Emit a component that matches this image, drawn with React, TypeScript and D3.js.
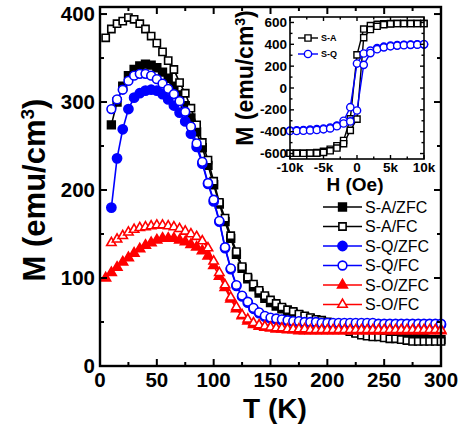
import React from 'react';
import * as d3 from 'd3';

// Main plot: temperature (K)
const temps = [5,10,15,20,25,30,35,40,45,50,55,60,65,70,75,80,85,90,95,100,105,110,115,120,125,130,135,140,145,150,155,160,165,170,175,180,185,190,195,200,205,210,215,220,225,230,235,240,245,250,255,260,265,270,275,280,285,290,295,300];

const saZFC = [null,274,300,318,330,337,341,343,342,339, 334,327,318,308,296,282,266,248,228,206, 184,164,145,127,111,99,90,83,77,72, 68,65,62,60,58,56,54,52,50,48, 46,44,42,40,38,37,36,35,34,34, 33,33,32,32,31,31,31,30,30,30];
const saFC = [373,383,389,392,396,394,389,383,375,367, 357,347,337,322,310,293,274,254,234,210, 186,168,148,130,113,101,93,86,80,75, 71,67,64,62,59,57,55,53,52,50, 48,45,42,39,37,35,34,33,33,32, 31,31,30,29,28,28,28,28,28,28];
const sqZFC = [null,180,236,269,292,305,310,313,314,313, 309,303,296,288,278,264,249,230,207,187, 164,134,110,91,79,72,65,60,56,54, 53,52,51,50,50,49,49,49,48,48, 48,48,48,48,48,48,48,48,47,47, 47,47,47,47,47,47,47,47,47,47];
const sqFC = [null,292,303,314,324,330,332,332,330,326, 321,315,309,301,289,272,253,232,208,189, 165,135,111,92,80,73,66,61,57,55, 54,53,52,51,51,50,50,50,49,49, 49,49,49,49,49,49,49,49,48,48, 48,48,48,48,48,48,48,48,48,48];
const soZFC = [100,106,112,118,123,128,133,137,140,143, 145,145,145,143,141,138,135,131,125,114, 102,89,76,65,57,51,47,45,44,43, 42,42,41,41,40,40,40,40,40,40, 40,40,40,40,40,40,40,40,40,40, 40,40,40,40,40,40,40,40,40,40];
const soFC = [null,140,144,148,152,155,157,158,159,160, 160,159,158,156,153,150,147,142,134,119, 106,92,78,67,58,53,49,46.5,45,44, 43,43,42,42,42,42,41,41,41,41, 41,41,41,41,41,41,41,41,41,41, 41,41,41,41,41,41,41,41,41,41];

const seriesNames = ['S-A/ZFC','S-A/FC','S-Q/ZFC','S-Q/FC','S-O/ZFC','S-O/FC'];
const xTicks = [0,50,100,150,200,250,300];
const yTicks = [0,100,200,300,400];

// Inset: field (Oe)
const insetH = [-10000,-9000,-8000,-7000,-6000,-5000,-4000,-3000,-2000,-1000,0,1000,2000,3000,4000,5000,6000,7000,8000,9000,10000];
const saDesc = [-598,-598,-597,-595,-590,-580,-560,-528,-480,-282,303,540,572,583,588,590,590,590,590,590,590];
const saAsc = [-598,-598,-598,-597,-596,-590,-575,-550,-510,-388,-285,461,535,565,580,587,590,590,590,590,590];
const sqDesc = [-390,-388,-385,-381,-377,-371,-362,-345,-300,-176,224,316,342,365,378,388,393,396,398,399,400];
const sqAsc = [-394,-393,-391,-388,-384,-378,-370,-350,-325,-306,-206,212,320,355,372,382,388,392,395,397,400];
const insetNames = ['S-A','S-Q'];
const insetXTicks = [-10000,-5000,0,5000,10000];
const insetXLabels = ['-10k','-5k','0','5k','10k'];
const insetYTicks = [-600,-400,-200,0,200,400,600];

const FONT = '"Liberation Sans", Arial, sans-serif';
const BLUE = '#0000ff';
const RED = '#ff0000';

type Style = { color: string; shape: 'square' | 'circle' | 'triangle'; filled: boolean; size: number };

const styles: Style[] = [
  { color: '#000', shape: 'square', filled: true, size: 60 },
  { color: '#000', shape: 'square', filled: false, size: 52 },
  { color: BLUE, shape: 'circle', filled: true, size: 66 },
  { color: BLUE, shape: 'circle', filled: false, size: 60 },
  { color: RED, shape: 'triangle', filled: true, size: 42 },
  { color: RED, shape: 'triangle', filled: false, size: 38 },
];

const symType = (s: Style['shape']) =>
  s === 'square' ? d3.symbolSquare : s === 'circle' ? d3.symbolCircle : d3.symbolTriangle;

export default function App() {
  const x = d3.scaleLinear().domain([0, 300]).range([100, 441]);
  const y = d3.scaleLinear().domain([0, 408]).range([366, 7]);
  const allSeries = [saZFC, saFC, sqZFC, sqFC, soZFC, soFC];

  const line = d3
    .line<[number, number]>()
    .x((d) => x(d[0]))
    .y((d) => y(d[1]));

  const ix = d3.scaleLinear().domain([-10000, 10000]).range([290, 424]);
  const iy = d3.scaleLinear().domain([-650, 650]).range([159, 17]);
  const iline = d3
    .line<[number, number]>()
    .x((d) => ix(d[0]))
    .y((d) => iy(d[1]));

  const buildLoop = (desc: number[], asc: number[]): [number, number][] => {
    const dpts: [number, number][] = insetH.map((h, i) => [h, desc[i]] as [number, number]).reverse();
    const apts: [number, number][] = insetH.map((h, i) => [h, asc[i]] as [number, number]);
    return [...dpts, ...apts];
  };
  const insetLoops = [buildLoop(saDesc, saAsc), buildLoop(sqDesc, sqAsc)];
  const insetStyles: Style[] = [
    { color: '#000', shape: 'square', filled: false, size: 38 },
    { color: BLUE, shape: 'circle', filled: false, size: 42 },
  ];

  const xMinor = d3.range(0, 301, 25);
  const yMinor = d3.range(0, 401, 50);
  const ixMinor = d3.range(-10000, 10001, 2500);
  const iyMinor = d3.range(-600, 601, 100);

  const marker = (st: Style, cx: number, cy: number, key: string | number, sw = 1.6) => (
    <path
      key={key}
      d={d3.symbol().type(symType(st.shape)).size(st.size)() as string}
      transform={`translate(${cx},${cy})`}
      fill={st.filled ? st.color : '#fff'}
      stroke={st.color}
      strokeWidth={sw}
    />
  );

  const legendRows = [207, 226.5, 246, 265.5, 285, 304.5];

  return (
    <svg
      width={465}
      height={426}
      style={{ position: 'absolute', left: 0, top: 0, background: '#fff' }}
      fontFamily={FONT}
    >
      <rect x={0} y={0} width={465} height={426} fill="#fff" />
      {/* main series */}
      {allSeries.map((vals, si) => {
        const pts = temps
          .map((t, i) => [t, vals[i]] as [number, number | null])
          .filter((d) => d[1] !== null) as [number, number][];
        const st = styles[si];
        return (
          <g key={si}>
            <path d={line(pts) as string} fill="none" stroke={st.color} strokeWidth={1.6} />
            {pts.map((p, i) => marker(st, x(p[0]), y(p[1]), i))}
          </g>
        );
      })}

      {/* main frame */}
      <rect x={100} y={7} width={341} height={359} fill="none" stroke="#000" strokeWidth={2.4} />
      {xMinor.map((t) => {
        const major = t % 50 === 0;
        const len = major ? 7 : 4;
        return (
          <g key={'xt' + t}>
            <line x1={x(t)} x2={x(t)} y1={366} y2={366 - len} stroke="#000" strokeWidth={2} />
            <line x1={x(t)} x2={x(t)} y1={7} y2={7 + len} stroke="#000" strokeWidth={2} />
          </g>
        );
      })}
      {yMinor.map((v) => {
        const major = v % 100 === 0;
        const len = major ? 7 : 4;
        return (
          <g key={'yt' + v}>
            <line x1={100} x2={100 + len} y1={y(v)} y2={y(v)} stroke="#000" strokeWidth={2} />
            <line x1={441} x2={441 - len} y1={y(v)} y2={y(v)} stroke="#000" strokeWidth={2} />
          </g>
        );
      })}
      {xTicks.map((t) => (
        <text key={'xl' + t} x={x(t)} y={387} textAnchor="middle" fontSize={20.5} fontWeight="bold">
          {t}
        </text>
      ))}
      {yTicks.map((v) => (
        <text key={'yl' + v} x={95} y={y(v)} dy="0.36em" textAnchor="end" fontSize={20.5} fontWeight="bold">
          {v}
        </text>
      ))}
      <text x={275} y={418} textAnchor="middle" fontSize={28} fontWeight="bold">
        T (K)
      </text>
      <text transform="translate(45,190) rotate(-90)" textAnchor="middle" fontSize={31} fontWeight="bold">
        <tspan>M (emu/cm</tspan>
        <tspan dy={-11} fontSize={19}>3</tspan>
        <tspan dy={11}>)</tspan>
      </text>

      {/* legend */}
      {seriesNames.map((n, i) => {
        const st = styles[i];
        const ly = legendRows[i];
        return (
          <g key={'lg' + i}>
            <line x1={323} x2={362} y1={ly} y2={ly} stroke={st.color} strokeWidth={1.6} />
            {marker(st, 342.5, ly, 'm')}
            <text x={365} y={ly} dy="0.36em" fontSize={16}>
              {n}
            </text>
          </g>
        );
      })}

      {/* inset */}
      <rect x={290} y={17} width={134} height={142} fill="#fff" stroke="none" />
      {insetLoops.map((pts, si) => {
        const st = insetStyles[si];
        return (
          <g key={'il' + si}>
            <path d={iline(pts) as string} fill="none" stroke={st.color} strokeWidth={1.4} />
            {pts.map((p, i) => marker(st, ix(p[0]), iy(p[1]), i, 1.4))}
          </g>
        );
      })}
      <rect x={290} y={17} width={134} height={142} fill="none" stroke="#000" strokeWidth={1.6} />
      {ixMinor.map((h) => {
        const major = h % 5000 === 0;
        const len = major ? 4 : 2.5;
        return (
          <g key={'ixt' + h}>
            <line x1={ix(h)} x2={ix(h)} y1={159} y2={159 - len} stroke="#000" strokeWidth={1.4} />
            <line x1={ix(h)} x2={ix(h)} y1={17} y2={17 + len} stroke="#000" strokeWidth={1.4} />
          </g>
        );
      })}
      {iyMinor.map((v) => {
        const major = v % 200 === 0;
        const len = major ? 4 : 2.5;
        return (
          <g key={'iyt' + v}>
            <line x1={290} x2={290 + len} y1={iy(v)} y2={iy(v)} stroke="#000" strokeWidth={1.4} />
            <line x1={424} x2={424 - len} y1={iy(v)} y2={iy(v)} stroke="#000" strokeWidth={1.4} />
          </g>
        );
      })}
      {insetXTicks.map((h, i) => (
        <text key={'ixl' + h} x={ix(h)} y={172} textAnchor="middle" fontSize={13.5} fontWeight="bold">
          {insetXLabels[i]}
        </text>
      ))}
      {insetYTicks.map((v) => (
        <text key={'iyl' + v} x={287} y={iy(v)} dy="0.34em" textAnchor="end" fontSize={13.5} fontWeight="bold">
          {v}
        </text>
      ))}
      <text x={355} y={191} textAnchor="middle" fontSize={19} fontWeight="bold">
        H (Oe)
      </text>
      <text transform="translate(253,78) rotate(-90)" textAnchor="middle" fontSize={23} fontWeight="bold">
        <tspan>M (emu/cm</tspan>
        <tspan dy={-8} fontSize={14}>3</tspan>
        <tspan dy={8}>)</tspan>
      </text>
      {insetNames.map((n, i) => {
        const st = insetStyles[i];
        const ly = 38 + i * 16;
        return (
          <g key={'ilg' + i}>
            <line x1={298} x2={318} y1={ly} y2={ly} stroke={st.color} strokeWidth={1.4} />
            {marker(st, 308, ly, 'm', 1.4)}
            <text x={321} y={ly} dy="0.36em" fontSize={9} fontWeight="bold">
              {n}
            </text>
          </g>
        );
      })}
    </svg>
  );
}
